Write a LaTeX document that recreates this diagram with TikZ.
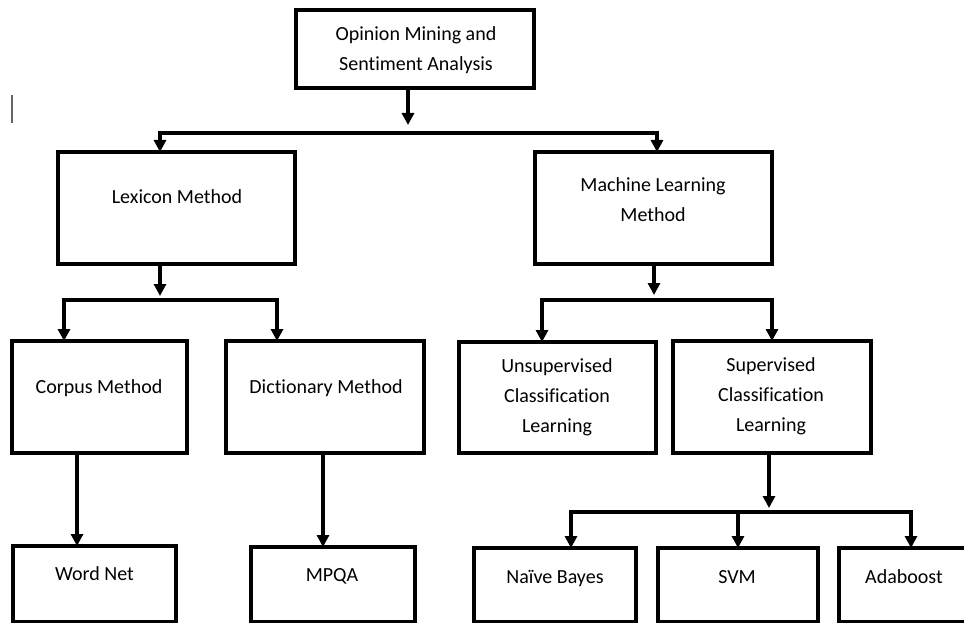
\documentclass[tikz,border=0pt]{standalone}
\usepackage{fontspec}
\setmainfont{Carlito}[Ligatures=NoCommon]
\usetikzlibrary{arrows.meta}
\begin{document}
\begin{tikzpicture}[x=1pt,y=-1pt,
  box/.style={draw=black, line width=3.6pt, fill=none, inner sep=0pt, outer sep=0pt, rectangle},
  lblm/.style={align=center, inner sep=0pt, font=\fontsize{20}{30}\selectfont},
  lbl/.style={lblm, text height=14pt, text depth=4pt},
  conn/.style={line width=3.4pt, line join=miter, -{Triangle[length=12pt,width=12pt]}},
  conn2/.style={line width=3.4pt, line join=miter, {Triangle[length=12pt,width=12pt]}-{Triangle[length=12pt,width=12pt]}}
]
\useasboundingbox (0,0) rectangle (964,623);
\clip (0,0) rectangle (964,623);
% cursor mark
\draw[gray!80!black, line width=1.8pt] (12,95) -- (12,123);

% boxes
\node[box, minimum width=238pt, minimum height=78pt] (top) at (415,49) {};
\node[box, minimum width=237pt, minimum height=112pt] (lex) at (176.5,208) {};
\node[box, minimum width=237pt, minimum height=112pt] (ml) at (653.5,208) {};
\node[box, minimum width=175pt, minimum height=112pt] (corp) at (99.5,397) {};
\node[box, minimum width=198pt, minimum height=112pt] (dict) at (325,397) {};
\node[box, minimum width=197pt, minimum height=111pt] (unsup) at (557.5,397.5) {};
\node[box, minimum width=198pt, minimum height=112pt] (sup) at (772,397) {};
\node[box, minimum width=163pt, minimum height=76pt] (wn) at (94.5,584) {};
\node[box, minimum width=164pt, minimum height=75pt] (mpqa) at (333,584.5) {};
\node[box, minimum width=162pt, minimum height=74pt] (nb) at (555,585) {};
\node[box, minimum width=160pt, minimum height=74pt] (svm) at (738,585) {};
\node[box, minimum width=160pt, minimum height=74pt] (ada) at (919,585) {};

% labels
\node[lblm] (topt) at (416,50) {Opinion Mining and\\Sentiment Analysis};
\node[lbl] (lext) at (177,198) {Lexicon Method};
\node[lblm] (mlt) at (653,200) {Machine Learning\\Method};
\node[lbl] (corpt) at (99,388) {Corpus Method};
\node[lbl] (dictt) at (326,388) {Dictionary Method};
\node[lblm] (unsupt) at (557,397) {Unsupervised\\Classification\\Learning};
\node[lblm] (supt) at (771,396) {Supervised\\Classification\\Learning};
\node[lbl] (wnt) at (94.5,575) {Word Net};
\node[lbl] (mpqat) at (332,576) {MPQA};
\node[lbl] (nbt) at (555,578) {Naïve Bayes};
\node[lbl] (svmt) at (737,578) {SVM};
\node[lbl] (adat) at (904,578) {Adaboost};

% coordinates
\coordinate (t1) at (408,125);
\coordinate (b1l) at (160,133);
\coordinate (b1r) at (657,133);
\coordinate (t2) at (160,296);
\coordinate (b2l) at (64,300);
\coordinate (b2r) at (277,300);
\coordinate (t3) at (654,295);
\coordinate (b3l) at (542,300);
\coordinate (b3r) at (772,300);
\coordinate (t4) at (769,508);
\coordinate (b4l) at (571,512);
\coordinate (b4m) at (738,512);
\coordinate (b4r) at (911,512);
\coordinate (c1) at (77,0);
\coordinate (c2) at (323,0);

% connectors
\draw[conn] (top.south -| t1) -- (t1);
\draw[conn2] (lex.north -| b1l) -- (b1l) -- (b1r) -- (ml.north -| b1r);

\draw[conn] (lex.south -| t2) -- (t2);
\draw[conn2] (corp.north -| b2l) -- (b2l) -- (b2r) -- (dict.north -| b2r);

\draw[conn] (ml.south -| t3) -- (t3);
\draw[conn2] (unsup.north -| b3l) -- (b3l) -- (b3r) -- (sup.north -| b3r);

\draw[conn] (corp.south -| c1) -- (wn.north -| c1);
\draw[conn] (dict.south -| c2) -- (mpqa.north -| c2);

\draw[conn] (sup.south -| t4) -- (t4);
\draw[conn2] (nb.north -| b4l) -- (b4l) -- (b4r) -- (ada.north -| b4r);
\draw[conn] (b4m) -- (svm.north -| b4m);
\end{tikzpicture}
\end{document}
